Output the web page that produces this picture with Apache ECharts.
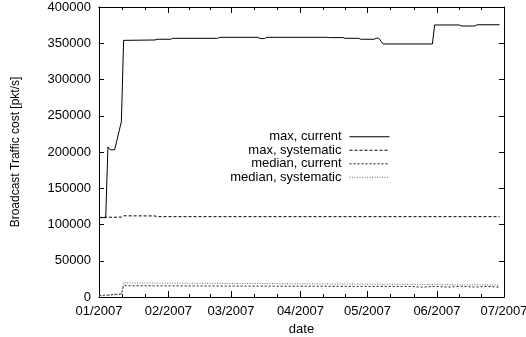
<!DOCTYPE html>
<html>
<head>
<meta charset="utf-8">
<script src="https://cdn.jsdelivr.net/npm/echarts@6/dist/echarts.min.js"></script>
<style>
  html, body { margin: 0; padding: 0; background: #fff; }
  #chart { width: 526px; height: 337px; }
</style>
</head>
<body>
<div id="chart"></div>
<script>
  // month ticks on the date axis
  const monthTicks = ['2007-01-01', '2007-02-01', '2007-03-01', '2007-04-01',
                      '2007-05-01', '2007-06-01', '2007-07-01'];

  const maxCurrent = [
    ['2007-01-01', 109500], ['2007-01-04', 109500], ['2007-01-05', 207000],
    ['2007-01-06', 203000], ['2007-01-08', 203000], ['2007-01-09', 216000],
    ['2007-01-10', 229000], ['2007-01-11', 242000], ['2007-01-12', 354000],
    ['2007-01-26', 354500], ['2007-01-27', 355500], ['2007-02-02', 355500],
    ['2007-02-03', 356800], ['2007-02-23', 356800], ['2007-02-24', 358200],
    ['2007-03-13', 358200], ['2007-03-14', 356500], ['2007-03-16', 356500],
    ['2007-03-17', 358200], ['2007-04-13', 358200], ['2007-04-14', 357800],
    ['2007-04-20', 357800], ['2007-04-21', 356800], ['2007-04-27', 356800],
    ['2007-04-28', 355500], ['2007-05-04', 355500], ['2007-05-05', 357000],
    ['2007-05-06', 357000], ['2007-05-08', 349000], ['2007-05-30', 349000],
    ['2007-05-31', 375200], ['2007-06-11', 375200], ['2007-06-12', 373800],
    ['2007-06-18', 373800], ['2007-06-19', 375500], ['2007-06-29', 375500]
  ];

  const maxSystematic = [
    ['2007-01-01', 109800], ['2007-01-11', 110200], ['2007-01-12', 112000],
    ['2007-01-26', 111800], ['2007-01-27', 110800], ['2007-06-29', 110800]
  ];

  const medianCurrent = [
    ['2007-01-01', 2000], ['2007-01-04', 2500], ['2007-01-08', 3500],
    ['2007-01-11', 4200], ['2007-01-12', 15600], ['2007-02-15', 15200],
    ['2007-03-31', 14800], ['2007-05-20', 14500], ['2007-05-25', 13600],
    ['2007-05-31', 14600], ['2007-06-06', 13700], ['2007-06-12', 14700],
    ['2007-06-18', 13700], ['2007-06-24', 14600], ['2007-06-29', 13500]
  ];

  const medianSystematic = [
    ['2007-01-01', 1500], ['2007-01-04', 2000], ['2007-01-11', 3800],
    ['2007-01-12', 19500], ['2007-02-15', 19000], ['2007-04-01', 18200],
    ['2007-05-15', 17500], ['2007-06-29', 16500]
  ];

  const FONT = 'Liberation Sans';

  let toTime = function (d) { return new Date(d + 'T00:00:00').getTime(); };
  let toPoints = function (arr) { return arr.map(p => [toTime(p[0]), p[1]]); };

  let majorTicks = monthTicks.map(toTime);
  // two minor ticks inside each month
  let minorTicks = [];
  for (let i = 0; i < majorTicks.length - 1; i++) {
    let step = (majorTicks[i + 1] - majorTicks[i]) / 3;
    minorTicks.push(majorTicks[i] + step, majorTicks[i] + 2 * step);
  }

  let fmtMonth = function (v) {
    let d = new Date(v);
    let m = d.getMonth() + 1;
    return (m < 10 ? '0' + m : m) + '/' + d.getFullYear();
  };

  let xBase = function (position, ticks, len, opts) {
    return Object.assign({
      type: 'value',
      position: position,
      min: majorTicks[0],
      max: majorTicks[majorTicks.length - 1],
      axisLine: { show: true, onZero: false, lineStyle: { color: '#000', width: 1 } },
      axisTick: { show: true, inside: true, length: len, customValues: ticks,
                  lineStyle: { color: '#000', width: 1 } },
      axisLabel: { show: false },
      splitLine: { show: false },
    }, opts || {});
  };

  let chart = echarts.init(document.getElementById('chart'));
  chart.setOption({
    animation: false,
    backgroundColor: '#fff',
    grid: { left: 99, right: 22, top: 7, bottom: 40, containLabel: false,
            outerBoundsMode: 'none' },
    legend: {
      orient: 'vertical',
      align: 'right',
      right: 131,
      top: 125,
      itemWidth: 40,
      itemHeight: 10,
      itemGap: 0,
      itemStyle: { opacity: 0 },
      lineStyle: { width: 1 },
      textStyle: { fontFamily: FONT, fontSize: 13, color: '#000', lineHeight: 13.5,
                   padding: [0, 3, 0, 0] },
      data: ['max, current', 'max, systematic', 'median, current', 'median, systematic'],
    },
    xAxis: [
      xBase('bottom', majorTicks, 6, {
        name: 'date',
        nameLocation: 'middle',
        nameGap: 24,
        nameTextStyle: { fontFamily: FONT, fontSize: 13, color: '#000' },
        axisLabel: {
          show: true, customValues: majorTicks, formatter: fmtMonth, margin: 8,
          fontFamily: FONT, fontSize: 13, color: '#000', hideOverlap: false,
        },
      }),
      xBase('bottom', minorTicks, 3),
      xBase('top', majorTicks, 6),
      xBase('top', minorTicks, 3),
    ],
    yAxis: [
      {
        type: 'value',
        position: 'left',
        min: 0, max: 400000, interval: 50000,
        name: 'Broadcast Traffic cost [pkt/s]',
        nameLocation: 'middle',
        nameGap: 77,
        nameTextStyle: { fontFamily: FONT, fontSize: 12, color: '#000' },
        axisLine: { show: true, lineStyle: { color: '#000', width: 1 } },
        axisTick: { show: true, inside: true, length: 5, lineStyle: { color: '#000' } },
        axisLabel: { margin: 8, fontFamily: FONT, fontSize: 13, color: '#000',
                     formatter: v => String(v) },
        splitLine: { show: false },
      },
      {
        type: 'value',
        position: 'right',
        min: 0, max: 400000, interval: 50000,
        axisLine: { show: true, lineStyle: { color: '#000', width: 1 } },
        axisTick: { show: true, inside: true, length: 5, lineStyle: { color: '#000' } },
        axisLabel: { show: false },
        splitLine: { show: false },
      }
    ],
    series: [
      {
        name: 'max, current', type: 'line', data: toPoints(maxCurrent),
        xAxisIndex: 0, yAxisIndex: 0, showSymbol: false, symbol: 'none',
        color: '#000', lineStyle: { color: '#000', width: 1 },
      },
      {
        name: 'max, systematic', type: 'line', data: toPoints(maxSystematic),
        xAxisIndex: 0, yAxisIndex: 0, showSymbol: false, symbol: 'none',
        color: '#000', lineStyle: { color: '#000', width: 1, type: [3, 2] },
      },
      {
        name: 'median, current', type: 'line', data: toPoints(medianCurrent),
        xAxisIndex: 0, yAxisIndex: 0, showSymbol: false, symbol: 'none',
        color: '#222', lineStyle: { color: '#222', width: 1, type: [2, 2] },
      },
      {
        name: 'median, systematic', type: 'line', data: toPoints(medianSystematic),
        xAxisIndex: 0, yAxisIndex: 0, showSymbol: false, symbol: 'none',
        color: '#666', lineStyle: { color: '#666', width: 1, type: [1, 1.5] },
      },
    ]
  });
</script>
</body>
</html>
